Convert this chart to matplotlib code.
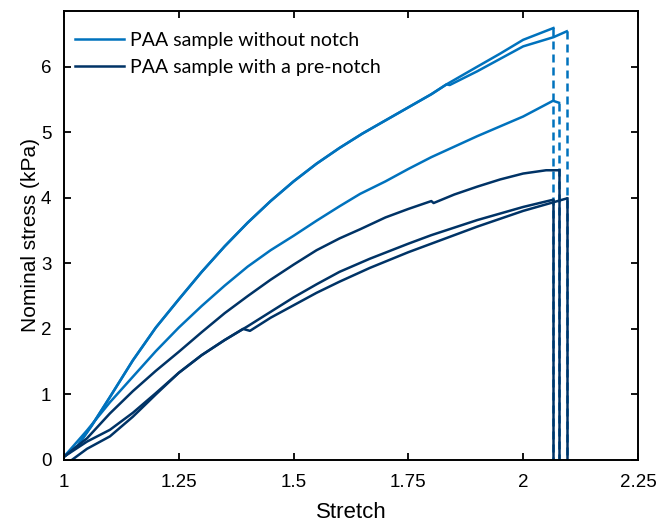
import matplotlib.pyplot as plt

# stress-stretch curves
# PAA sample without notch (3 runs)
x_a = [1.0, 1.03, 1.06, 1.1, 1.15, 1.2, 1.25, 1.3, 1.35, 1.4, 1.45, 1.5, 1.55, 1.6, 1.65,
       1.7, 1.75, 1.8, 1.833, 1.9, 1.95, 2.0, 2.066]
y_a = [0.05, 0.22, 0.52, 0.96, 1.52, 2.02, 2.45, 2.87, 3.26, 3.62, 3.95, 4.25, 4.52, 4.76, 4.98,
       5.18, 5.38, 5.58, 5.73, 6.0, 6.2, 6.41, 6.59]
x_b = [1.0, 1.03, 1.06, 1.1, 1.15, 1.2, 1.25, 1.3, 1.35, 1.4, 1.45, 1.5, 1.55, 1.6, 1.65,
       1.7, 1.75, 1.8, 1.833, 1.84, 1.9, 1.95, 2.0, 2.066, 2.095]
y_b = [0.05, 0.22, 0.52, 0.96, 1.52, 2.02, 2.45, 2.87, 3.26, 3.62, 3.95, 4.25, 4.52, 4.76, 4.98,
       5.18, 5.38, 5.58, 5.73, 5.72, 5.93, 6.12, 6.31, 6.45, 6.54]
x_c = [1.0, 1.05, 1.1, 1.15, 1.2, 1.25, 1.3, 1.35, 1.4, 1.45, 1.5, 1.55, 1.6, 1.645, 1.7,
       1.75, 1.8, 1.9, 2.0, 2.065, 2.078]
y_c = [0.05, 0.45, 0.88, 1.27, 1.66, 2.02, 2.35, 2.66, 2.95, 3.2, 3.42, 3.65, 3.87, 4.06, 4.25,
       4.44, 4.62, 4.94, 5.24, 5.48, 5.45]

# PAA sample with a pre-notch (3 runs)
x_d = [1.0, 1.05, 1.1, 1.15, 1.2, 1.25, 1.3, 1.35, 1.4, 1.45, 1.5, 1.55, 1.6, 1.645, 1.7,
       1.75, 1.8, 1.805, 1.85, 1.9, 1.95, 2.0, 2.05, 2.078]
y_d = [0.05, 0.33, 0.71, 1.05, 1.36, 1.65, 1.95, 2.24, 2.5, 2.75, 2.98, 3.2, 3.38, 3.52, 3.7,
       3.83, 3.95, 3.92, 4.05, 4.17, 4.28, 4.37, 4.42, 4.42]
x_e = [1.0, 1.05, 1.1, 1.15, 1.2, 1.25, 1.3, 1.35, 1.4, 1.45, 1.5, 1.55, 1.6, 1.666, 1.75,
       1.8, 1.9, 2.0, 2.065]
y_e = [0.05, 0.28, 0.46, 0.72, 1.02, 1.33, 1.6, 1.83, 2.04, 2.26, 2.48, 2.68, 2.87, 3.07, 3.3,
       3.43, 3.66, 3.86, 3.97]
x_f = [1.017, 1.05, 1.1, 1.15, 1.2, 1.25, 1.3, 1.35, 1.39, 1.405, 1.45, 1.5, 1.55, 1.6, 1.666,
       1.75, 1.8, 1.9, 2.0, 2.065, 2.095]
y_f = [0.0, 0.17, 0.36, 0.66, 1.0, 1.33, 1.6, 1.83, 2.0, 1.97, 2.17, 2.36, 2.55, 2.72, 2.93,
       3.17, 3.3, 3.56, 3.8, 3.93, 3.99]

light = '#0072BD'
dark = '#003366'
lw = 1.8

fig = plt.figure(figsize=(6.57, 5.23), dpi=100)
ax = fig.add_axes([0.0974, 0.1205, 0.8736, 0.8585])

ax.plot(x_a, y_a, color=light, lw=lw, label='PAA sample without notch')
ax.plot(x_b, y_b, color=light, lw=lw)
ax.plot(x_c, y_c, color=light, lw=lw)
for xs, ys in [(x_a, y_a), (x_c, y_c), (x_b, y_b)]:
    ax.plot([xs[-1], xs[-1]], [ys[-1], 0], color=light, lw=lw, dashes=(3.2, 2.0))

ax.plot(x_d, y_d, color=dark, lw=lw, label='PAA sample with a pre-notch')
ax.plot(x_e, y_e, color=dark, lw=lw)
ax.plot(x_f, y_f, color=dark, lw=lw)
for xs, ys in [(x_d, y_d), (x_e, y_e), (x_f, y_f)]:
    ax.plot([xs[-1], xs[-1]], [ys[-1], 0], color=dark, lw=lw)

ax.set_xlim(1, 2.25)
ax.set_ylim(0, 6.85)
ax.set_xticks([1, 1.25, 1.5, 1.75, 2, 2.25])
ax.set_xticklabels(['1', '1.25', '1.5', '1.75', '2', '2.25'])
ax.set_yticks(range(0, 7))

for s in ax.spines.values():
    s.set_linewidth(1.4)
ax.tick_params(direction='in', length=5, width=1.3, labelsize=13.5, top=True, right=True)
ax.tick_params(axis='x', pad=10)
ax.tick_params(axis='y', pad=9)
for lab in ax.get_xticklabels() + ax.get_yticklabels():
    lab.set_family('Liberation Sans')

ax.set_xlabel('Stretch', fontsize=16, family='Liberation Sans', labelpad=8)
ax.set_ylabel('Nominal stress (kPa)', fontsize=15, family='Liberation Sans', labelpad=1)

ax.legend(loc='upper left', frameon=False, prop={'family': 'Lato', 'size': 14},
          handlelength=2.55, handletextpad=0.3, borderaxespad=0.0, labelspacing=0.48,
          bbox_to_anchor=(0.005, 0.97))

fig.savefig('out.png', dpi=100)
